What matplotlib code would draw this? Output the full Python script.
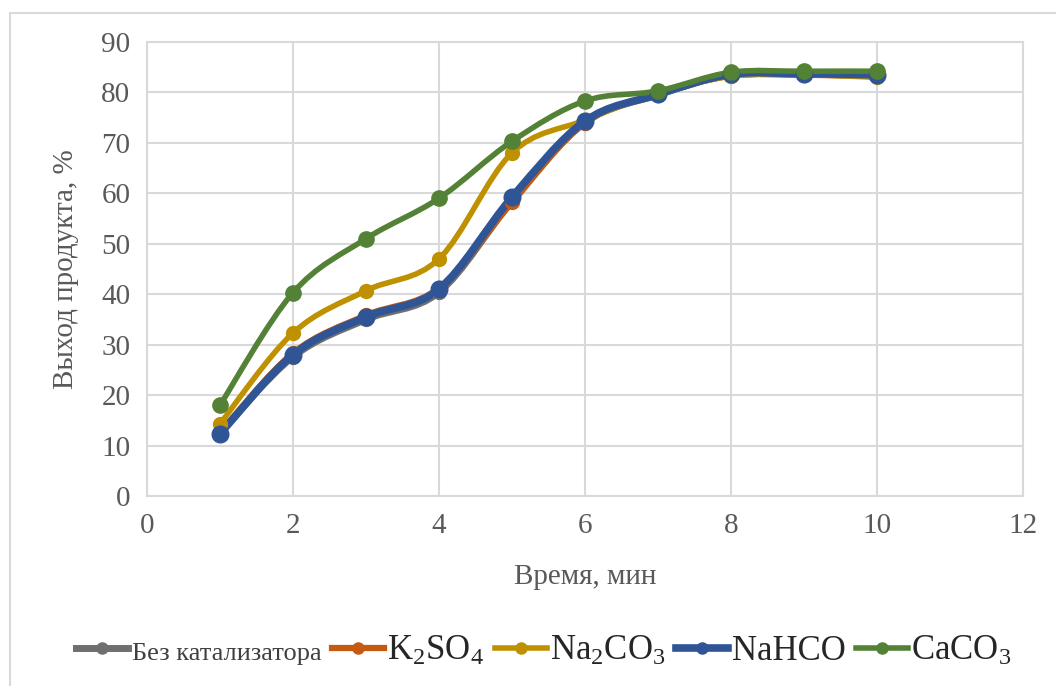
import numpy as np
import matplotlib
matplotlib.use("Agg")
import matplotlib.pyplot as plt
from matplotlib.path import Path
from matplotlib.patches import PathPatch, Rectangle
from matplotlib.lines import Line2D

plt.rcParams['font.family'] = ['Liberation Serif', 'DejaVu Serif']
plt.rcParams['mathtext.fontset'] = 'custom'
plt.rcParams['mathtext.rm'] = 'Liberation Serif'

# time, min
time = [1, 2, 3, 4, 5, 6, 7, 8, 9, 10]

# product yield, %
no_cat = [12.5, 27.6, 35.0, 40.4, 58.4, 74.0, 79.5, 83.5, 83.6, 83.4]
k2so4 = [12.6, 28.3, 35.8, 41.2, 58.2, 74.0, 79.6, 83.3, 83.5, 83.2]
na2co3 = [14.3, 32.3, 40.7, 47.0, 68.0, 74.5, 79.8, 83.2, 83.5, 83.0]
nahco = [12.3, 28.0, 35.5, 41.0, 59.2, 74.3, 79.6, 83.6, 83.7, 83.5]
caco3 = [18.0, 40.3, 51.0, 59.0, 70.3, 78.3, 80.3, 84.0, 84.2, 84.2]

labels = ['Без катализатора', r'$\mathregular{K_2SO_4}$', r'$\mathregular{Na_2CO_3}$',
          'NaHCO', r'$\mathregular{CaCO_3}$']
colors = ['#6f6f6f', '#c55a11', '#bf9000', '#2f5597', '#538135']
widths = [5, 4.5, 4, 5.5, 4]
msizes = [10, 10, 10, 12, 11]
series = [no_cat, k2so4, na2co3, nahco, caco3]


def smooth_path(x, y):
    # Excel-like smoothed line: Catmull-Rom segments as cubic Bezier curves
    p = np.column_stack([x, y]).astype(float)
    n = len(p)
    verts = [p[0]]
    codes = [Path.MOVETO]
    for i in range(n - 1):
        p0 = p[i - 1] if i > 0 else p[i]
        p3 = p[i + 2] if i + 2 < n else p[i + 1]
        c1 = p[i] + (p[i + 1] - p0) / 6
        c2 = p[i + 1] - (p3 - p[i]) / 6
        verts += [c1, c2, p[i + 1]]
        codes += [Path.CURVE4] * 3
    return Path(verts, codes)


fig = plt.figure(figsize=(10.56, 6.86), dpi=100)
ax = fig.add_axes([0.1392, 0.277, 0.8293, 0.6618])

for y, c, lw, ms in zip(series, colors, widths, msizes):
    ax.add_patch(PathPatch(smooth_path(time, y), fill=False, edgecolor=c,
                           lw=lw, capstyle='round', joinstyle='round'))
    ax.plot(time, y, 'o', color=c, ms=ms, lw=0)

ax.set_xlim(0, 12)
ax.set_ylim(0, 90)
ax.set_xticks(range(0, 13, 2))
ax.set_yticks(range(0, 91, 10))
ax.grid(True, color='#d9d9d9', lw=1.5)
ax.set_axisbelow(True)
for s in ax.spines.values():
    s.set_color('#d9d9d9')
    s.set_linewidth(1.5)
ax.tick_params(length=0, labelsize=21, labelcolor='#595959', pad=12)
ax.set_xlabel('Время, мин', fontsize=21, color='#595959', labelpad=18)
ax.set_ylabel('Выход продукта, %', fontsize=21, color='#595959', labelpad=16)

handles = [Line2D([0], [0], color=c, lw=lw, marker='o', ms=8) for c, lw in zip(colors, widths)]
leg = fig.legend(handles, labels, loc='center', bbox_to_anchor=(0.515, 0.05), ncol=5,
                 frameon=False, fontsize=25, handlelength=1.5, handletextpad=0.1,
                 columnspacing=0.3)
for t in leg.get_texts():
    t.set_color('#262626')
leg.get_texts()[0].set_fontsize(19)
leg.get_texts()[0].set_color('#404040')

fig.patches.append(Rectangle((10 / 1056, -0.1), 1.2, 1 - 13 / 686 + 0.1,
                             transform=fig.transFigure, fill=False,
                             edgecolor='#d9d9d9', lw=1.5))

fig.savefig('out.png', dpi=100, facecolor='white')
